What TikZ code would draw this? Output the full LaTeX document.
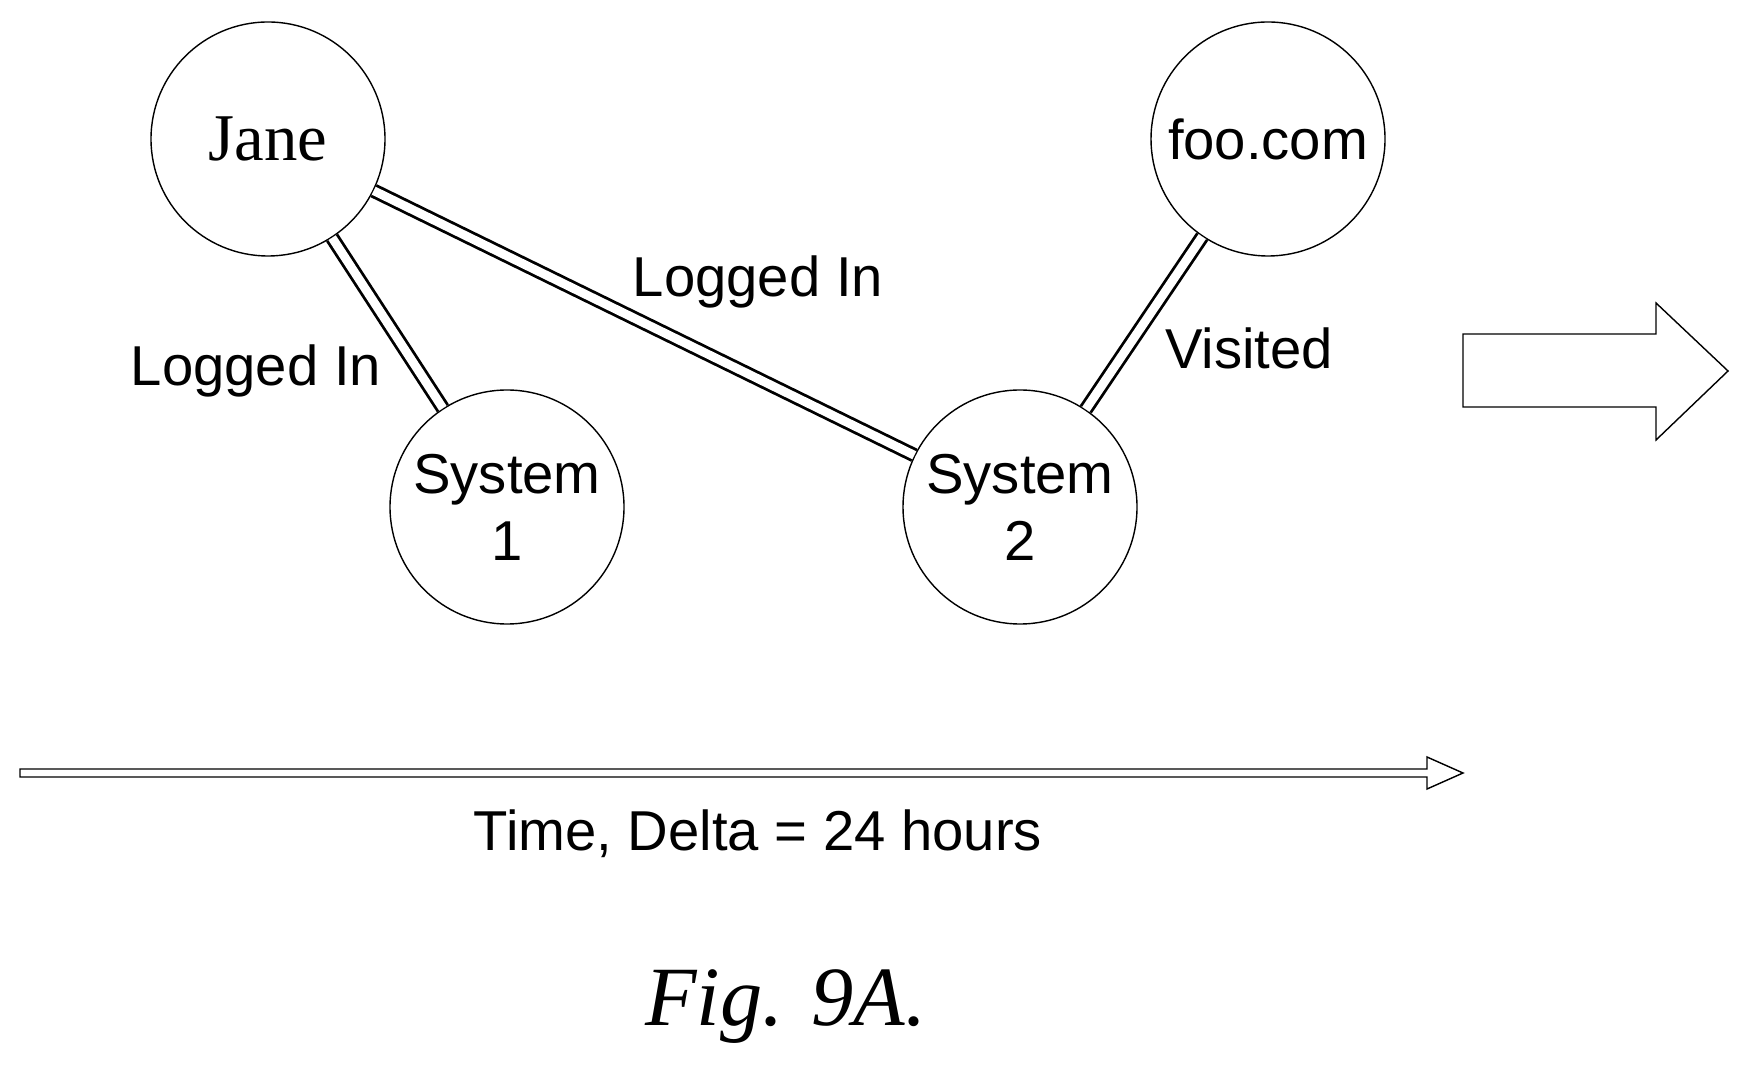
\documentclass[tikz,border=0pt]{standalone}
\usepackage{fontspec}
\setmainfont{Liberation Sans}
\newfontfamily\janefont{Liberation Serif}
\usetikzlibrary{positioning}
\tikzset{ent/.style={draw,circle,minimum size=2.34cm,inner sep=0pt,align=center,font=\fontsize{16}{19}\selectfont}}
\tikzset{rel/.style={draw,double,double distance=2.5pt,thick}}
\tikzset{lbl/.style={font=\fontsize{16}{19}\selectfont}}
\begin{document}
\begin{tikzpicture}
  \useasboundingbox (0,0) rectangle (17.39,10.71);
    % entities
    \node [ent,font=\janefont\fontsize{19}{22}\selectfont] (jane) at (2.68,9.32) {Jane};
    \node [ent] (sys1) at (5.07,5.64) {System\\1};
    \node [ent] (sys2) at (10.20,5.64) {System\\2};
    \node [ent] (foo) at (12.68,9.32) {foo.com};

    % relations
    \path [rel] (jane) -- (sys1);
    \path [rel] (jane) -- (sys2);
    \path [rel] (sys2) -- (foo);
    \node [lbl] (l1) at (2.56,7.0) {Logged In};
    \node [lbl] (l2) at (7.58,7.89) {Logged In};
    \node [lbl] (l3) at (12.49,7.23) {Visited};

    % big arrow
    \draw [thin] (14.63,7.37) -- (16.56,7.37) -- (16.56,7.68) -- (17.28,7.0)
      -- (16.56,6.31) -- (16.56,6.64) -- (14.63,6.64) -- cycle;

    % time axis
    \draw [thin] (0.20,3.02) -- (14.27,3.02) -- (14.27,3.14) -- (14.63,2.98)
      -- (14.27,2.82) -- (14.27,2.94) -- (0.20,2.94) -- cycle;
    \node [lbl] (time) at (7.58,2.37) {Time, Delta = 24 hours};
    \node [font=\janefont\itshape\fontsize{24}{28}\selectfont] (fig) at (7.86,0.64) {Fig. 9A.};
\end{tikzpicture}
\end{document}
